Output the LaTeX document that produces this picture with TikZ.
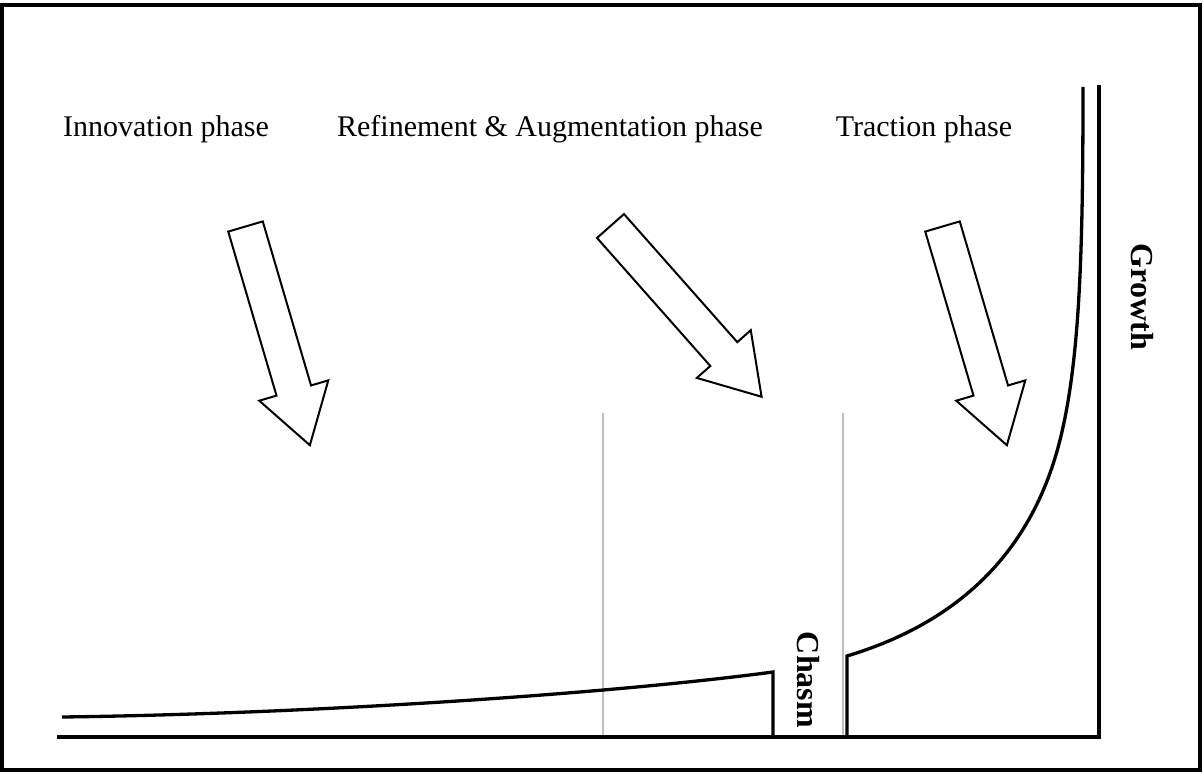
\documentclass[tikz,border=0pt]{standalone}
\usepackage{fontspec}
\setmainfont{Liberation Serif}

\begin{document}
\begin{tikzpicture}[x=1pt, y=-1pt,
    axis/.style={line width=3.8pt},
    curve/.style={line width=3.3pt},
    divider/.style={line width=2pt, gray!50},
    phase/.style={font=\fontsize{30}{36}\selectfont, anchor=base},
    vlabel/.style={font=\fontsize{32}{38}\selectfont\bfseries, rotate=-90},
    phasearrow/.pic={
      \draw[line width=2pt, fill=white] (0,-18) -- (171,-18) -- (171,-36)
        -- (228,0) -- (171,36) -- (171,18) -- (0,18) -- cycle;}]
      \useasboundingbox (0,0) rectangle (1203,773);
      \draw[line width=3.5pt] (2,5) rectangle (1200,770);

      % phase labels and arrows
      \node[phase] (innovation) at (166,137) {Innovation phase};
      \node[phase] (refinement) at (550,137) {Refinement \& Augmentation phase};
      \node[phase] (traction) at (924,137) {Traction phase};

      \pic[rotate=-73.6] at (245.5,226.5) {phasearrow};
      \pic[rotate=-48.5] at (610.5,226) {phasearrow};
      \pic[rotate=-73.6] at (942.5,226.5) {phasearrow};

      % --------------------------------------------------------------------------
      \draw[divider] (603,413) -- (603,737);
      \draw[divider] (843,413) -- (843,737);

      \draw[curve] (62,717) .. controls (300,714) and (600,695) .. (773,672) -- (773,737);
      \draw[curve] (847,737) -- (847,656) .. controls (950,625) and (1030,560) .. (1060,440)
        .. controls (1080,360) and (1083,250) .. (1083,87);

      \coordinate (origin) at (1099,737);
      \draw[axis] (57,737) -- (origin) -- (1099,85);

      \node[vlabel] (chasm) at (808,680) {Chasm};
      \node[vlabel] (growth) at (1142,297) {Growth};
\end{tikzpicture}
\end{document}
